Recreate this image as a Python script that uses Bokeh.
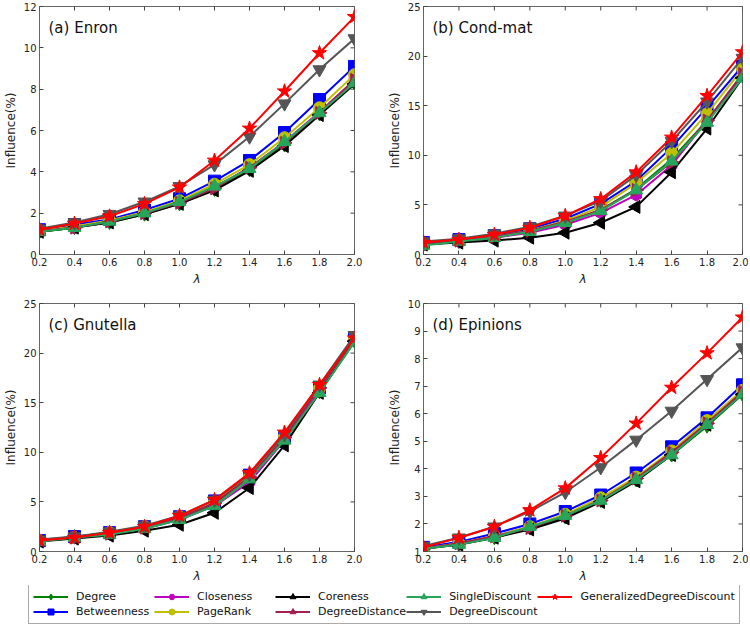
import math
from bokeh.plotting import figure
from bokeh.layouts import column, row
from bokeh.models import (FixedTicker, PrintfTickFormatter, Label,
                          Legend, LegendItem, Range1d)
from bokeh.embed import file_html
from bokeh.resources import INLINE

# ---------------- data ----------------
lambda_values = [0.2, 0.4, 0.6, 0.8, 1.0, 1.2, 1.4, 1.6, 1.8, 2.0]
x_ticks = [0.2, 0.4, 0.6, 0.8, 1.0, 1.2, 1.4, 1.6, 1.8, 2.0]

series_names = ["Degree", "Betweenness", "Closeness", "PageRank", "Coreness",
                "DegreeDistance", "SingleDiscount", "DegreeDiscount",
                "GeneralizedDegreeDiscount"]

# (a) Enron
enron_degree = [1.1, 1.3, 1.55, 1.95, 2.45, 3.15, 4.1, 5.3, 6.8, 8.3]
enron_betweenness = [1.2, 1.45, 1.7, 2.15, 2.7, 3.55, 4.55, 5.9, 7.5, 9.1]
enron_closeness = [1.15, 1.3, 1.6, 2.0, 2.5, 3.25, 4.2, 5.45, 6.9, 8.45]
enron_pagerank = [1.15, 1.35, 1.65, 2.05, 2.6, 3.4, 4.35, 5.65, 7.1, 8.7]
enron_coreness = [1.1, 1.3, 1.55, 1.95, 2.45, 3.1, 4.05, 5.25, 6.75, 8.25]
enron_degreedistance = [1.15, 1.3, 1.6, 2.0, 2.5, 3.2, 4.2, 5.4, 6.85, 8.45]
enron_singlediscount = [1.1, 1.3, 1.6, 2.0, 2.55, 3.3, 4.15, 5.45, 6.85, 8.3]
enron_degreediscount = [1.25, 1.55, 1.95, 2.55, 3.3, 4.35, 5.7, 7.3, 8.95, 10.45]
enron_gdd = [1.2, 1.5, 1.85, 2.45, 3.25, 4.55, 6.1, 7.9, 9.75, 11.5]

# (b) Cond-mat
condmat_degree = [1.0, 1.3, 1.7, 2.3, 3.2, 4.5, 6.6, 9.6, 13.5, 18.0]
condmat_betweenness = [1.2, 1.5, 1.9, 2.6, 3.6, 5.1, 7.4, 10.8, 14.8, 19.0]
condmat_closeness = [1.0, 1.3, 1.7, 2.2, 3.0, 4.2, 6.0, 9.0, 13.5, 18.0]
condmat_pagerank = [1.1, 1.4, 1.8, 2.4, 3.4, 4.8, 7.2, 10.2, 14.2, 18.7]
condmat_coreness = [1.0, 1.2, 1.4, 1.7, 2.2, 3.2, 4.8, 8.3, 12.7, 17.8]
condmat_degreedistance = [1.1, 1.4, 1.8, 2.4, 3.3, 4.5, 6.5, 9.3, 13.5, 18.2]
condmat_singlediscount = [0.9, 1.3, 1.7, 2.3, 3.2, 4.4, 6.5, 9.4, 13.3, 17.8]
condmat_degreediscount = [1.3, 1.6, 2.1, 2.8, 3.9, 5.4, 8.0, 11.4, 15.4, 19.8]
condmat_gdd = [1.2, 1.5, 2.0, 2.7, 3.9, 5.6, 8.3, 11.8, 16.0, 20.4]

# (c) Gnutella
gnutella_degree = [1.1, 1.5, 1.9, 2.4, 3.3, 4.8, 7.3, 11.2, 16.1, 21.2]
gnutella_betweenness = [1.1, 1.5, 1.9, 2.5, 3.5, 5.1, 7.7, 11.6, 16.5, 21.5]
gnutella_closeness = [1.1, 1.4, 1.8, 2.3, 3.2, 4.6, 7.0, 11.2, 16.3, 21.3]
gnutella_pagerank = [1.1, 1.4, 1.9, 2.5, 3.5, 5.0, 7.6, 11.6, 16.5, 21.4]
gnutella_coreness = [1.0, 1.3, 1.6, 2.1, 2.7, 3.9, 6.4, 10.7, 16.0, 21.2]
gnutella_degreedistance = [1.1, 1.4, 1.8, 2.4, 3.4, 4.9, 7.5, 11.5, 16.5, 21.4]
gnutella_singlediscount = [1.0, 1.4, 1.7, 2.3, 3.2, 4.6, 7.3, 11.2, 16.0, 21.1]
gnutella_degreediscount = [1.2, 1.5, 2.0, 2.6, 3.6, 5.2, 7.8, 11.8, 16.8, 21.8]
gnutella_gdd = [1.1, 1.4, 1.9, 2.5, 3.6, 5.2, 7.9, 12.0, 16.8, 21.5]

# (d) Epinions
epinions_degree = [1.1, 1.25, 1.5, 1.85, 2.25, 2.85, 3.6, 4.5, 5.55, 6.7]
epinions_betweenness = [1.15, 1.35, 1.65, 2.0, 2.45, 3.05, 3.85, 4.8, 5.85, 7.05]
epinions_closeness = [1.1, 1.3, 1.55, 1.9, 2.3, 2.9, 3.65, 4.6, 5.65, 6.8]
epinions_pagerank = [1.1, 1.3, 1.55, 1.9, 2.35, 2.95, 3.7, 4.65, 5.75, 6.85]
epinions_coreness = [1.1, 1.25, 1.5, 1.8, 2.2, 2.8, 3.55, 4.5, 5.6, 6.7]
epinions_degreedistance = [1.1, 1.3, 1.55, 1.85, 2.3, 2.85, 3.65, 4.6, 5.65, 6.8]
epinions_singlediscount = [1.1, 1.25, 1.5, 1.9, 2.3, 2.85, 3.6, 4.5, 5.6, 6.7]
epinions_degreediscount = [1.2, 1.5, 1.9, 2.45, 3.15, 4.05, 5.05, 6.1, 7.25, 8.4]
epinions_gdd = [1.15, 1.5, 1.9, 2.5, 3.3, 4.4, 5.65, 6.95, 8.2, 9.5]

enron_ticks = [0, 2, 4, 6, 8, 10, 12]
condmat_ticks = [0, 5, 10, 15, 20, 25]
gnutella_ticks = [0, 5, 10, 15, 20, 25]
epinions_ticks = [1, 2, 3, 4, 5, 6, 7, 8, 9, 10]

# ---------------- styles ----------------
colors = ["#007f00", "#0000ff", "#bf00bf", "#bfbf00", "#000000",
          "#a3204c", "#27a55a", "#555555", "#ff0000"]
markers = ["diamond", "square", "hex", "circle", "triangle",
           "triangle", "triangle", "inverted_triangle", "star"]
angles = [0, 0, math.pi / 6, 0, math.pi / 2, -math.pi / 2, 0, 0, 0]
sizes = [14, 12, 12, 12, 13, 13, 13, 13, 15]

FONT = "DejaVu Sans"
TICK_COLOR = "#444444"


def make_panel(title, series, yticks, width, height, mb_left, mb_right, mb_top, mb_bottom):
    p = figure(width=width, height=height, output_backend="svg", toolbar_location=None,
               x_range=Range1d(0.2, 2.0), y_range=Range1d(yticks[0], yticks[-1]),
               min_border_left=mb_left, min_border_right=mb_right,
               min_border_top=mb_top, min_border_bottom=mb_bottom)
    p.grid.visible = False
    p.outline_line_color = "#666666"
    p.outline_line_width = 1
    p.background_fill_color = "white"
    p.border_fill_color = "white"

    xa = p.xaxis[0]
    ya = p.yaxis[0]
    xa.ticker = FixedTicker(ticks=x_ticks)
    xa.formatter = PrintfTickFormatter(format="%.1f")
    ya.ticker = FixedTicker(ticks=yticks)
    xa.axis_label = "λ"
    ya.axis_label = "Influence(%)"
    for ax in (xa, ya):
        ax.axis_line_color = None
        ax.major_tick_in = 4
        ax.major_tick_out = 0
        ax.major_tick_line_color = TICK_COLOR
        ax.minor_tick_line_color = None
        ax.major_label_text_font = FONT
        ax.major_label_text_font_size = "10px"
        ax.major_label_text_color = "#222222"
        ax.major_label_standoff = 3
        ax.axis_label_text_font = FONT
        ax.axis_label_text_font_size = "12px"
        ax.axis_label_text_font_style = "normal"
        ax.axis_label_text_color = "#222222"
        ax.axis_label_standoff = 3
    xa.axis_label_text_font_style = "italic"

    # mirrored inward ticks on the top and right edges (half of each dash is clipped by the frame)
    p.scatter(x_ticks, [yticks[-1]] * len(x_ticks), marker="dash", angle=math.pi / 2,
              size=8, line_color=TICK_COLOR, line_width=1)
    p.scatter([x_ticks[-1]] * len(yticks), yticks, marker="dash",
              size=8, line_color=TICK_COLOR, line_width=1)

    for i, ys in enumerate(series):
        p.line(lambda_values, ys, line_color=colors[i], line_width=2)
        p.scatter(lambda_values, ys, marker=markers[i], size=sizes[i],
                  angle=angles[i], fill_color=colors[i], line_color=colors[i])

    p.add_layout(Label(x=9, y=height - mb_top - mb_bottom - 12, x_units="screen", y_units="screen",
                       text=title, text_font=FONT, text_font_size="15px",
                       text_baseline="top", text_color="#111111"))
    return p


FH = 248
H1 = 6 + FH + 34
H2 = 15 + FH + 34
pa = make_panel("(a) Enron",
                [enron_degree, enron_betweenness, enron_closeness, enron_pagerank, enron_coreness,
                 enron_degreedistance, enron_singlediscount, enron_degreediscount, enron_gdd],
                enron_ticks, 384, H1, 32, 30, 6, 34)
pb = make_panel("(b) Cond-mat",
                [condmat_degree, condmat_betweenness, condmat_closeness, condmat_pagerank, condmat_coreness,
                 condmat_degreedistance, condmat_singlediscount, condmat_degreediscount, condmat_gdd],
                condmat_ticks, 364, H1, 32, 6, 6, 34)
pc = make_panel("(c) Gnutella",
                [gnutella_degree, gnutella_betweenness, gnutella_closeness, gnutella_pagerank, gnutella_coreness,
                 gnutella_degreedistance, gnutella_singlediscount, gnutella_degreediscount, gnutella_gdd],
                gnutella_ticks, 384, H2, 32, 30, 15, 34)
pd = make_panel("(d) Epinions",
                [epinions_degree, epinions_betweenness, epinions_closeness, epinions_pagerank, epinions_coreness,
                 epinions_degreedistance, epinions_singlediscount, epinions_degreediscount, epinions_gdd],
                epinions_ticks, 364, H2, 32, 6, 15, 34)

# ---------------- legend ----------------
leg = figure(width=748, height=44, output_backend="svg", toolbar_location=None,
             x_range=Range1d(0, 1), y_range=Range1d(0, 1),
             x_axis_location=None, y_axis_location=None, min_border=0)
leg.grid.visible = False
leg.outline_line_color = None
items = []
for i, name in enumerate(series_names):
    lr = leg.line([5, 6], [5, 6], line_color=colors[i], line_width=2)
    sr = leg.scatter([5], [5], marker=markers[i], size=sizes[i], angle=angles[i],
                     fill_color=colors[i], line_color=colors[i])
    items.append(LegendItem(label=name, renderers=[lr, sr]))
legend = Legend(items=items, location=(28, 5), orientation="vertical", nrows=2,
                label_text_font=FONT, label_text_font_size="11px",
                label_text_color="#111111",
                glyph_width=35, glyph_height=15, label_height=15, label_width=78,
                label_standoff=8, spacing=0, padding=4, margin=0,
                border_line_color="#555555", border_line_width=1,
                background_fill_alpha=1.0)
leg.add_layout(legend, "center")

layout = column(row(pa, pb), row(pc, pd), leg)
open("out.html", "w").write(file_html(layout, INLINE))
